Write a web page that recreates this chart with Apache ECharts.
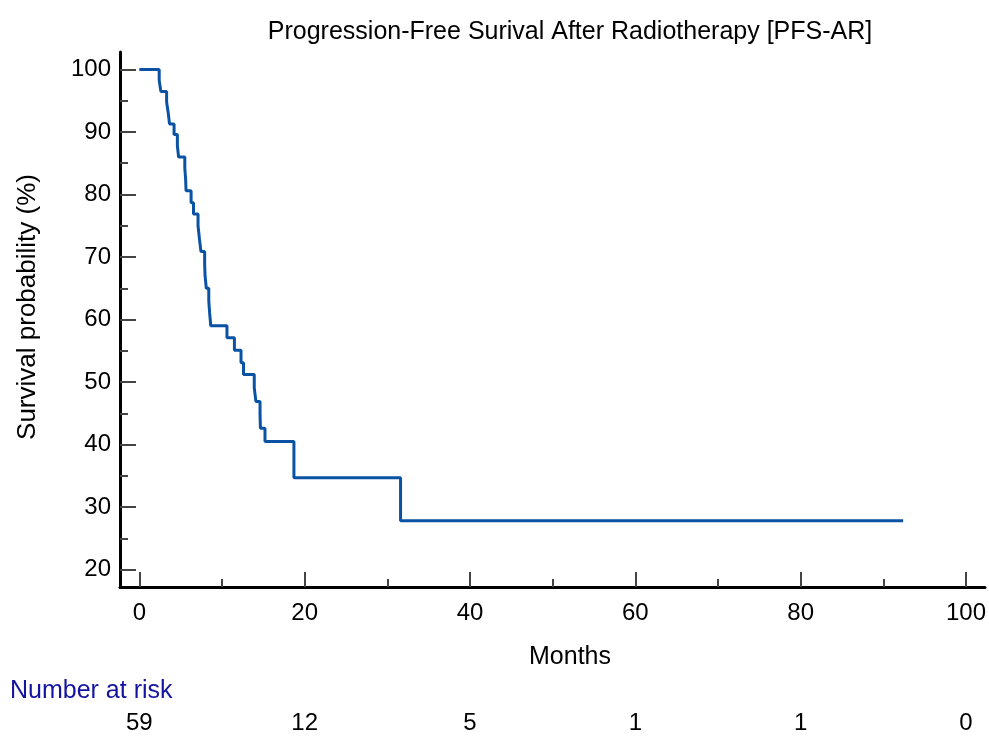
<!DOCTYPE html>
<html>
<head>
<meta charset="utf-8">
<script src="https://cdn.jsdelivr.net/npm/echarts@6/dist/echarts.min.js"></script>
<style>
  html, body { margin: 0; padding: 0; background: #fff; }
  #chart { width: 989px; height: 738px; }
</style>
</head>
<body>
<div id="chart"></div>
<script>
// Kaplan-Meier steps (months, survival %)
let times = [0, 2.4, 2.6, 3.3, 3.5, 3.65, 4.2, 4.6, 4.75, 5.5, 5.6, 5.65, 6.26, 6.55, 7.1, 7.27, 7.45,
  7.9, 7.95, 8.1, 8.4, 8.5, 8.64, 10.6, 11.5, 12.3, 12.6, 13.9, 14.1, 14.6, 14.65, 15.2, 18.7, 31.6, 92.4]
let survival = [100, 98.3, 96.5, 94.8, 93.0, 91.3, 89.6, 87.8, 86.0, 84.2, 82.4, 80.6, 78.7, 76.9, 75.0, 72.9, 70.9,
  68.9, 67.0, 65.0, 63.0, 61.1, 59.0, 57.1, 55.1, 53.1, 51.2, 49.1, 46.9, 44.7, 42.6, 40.5, 34.7, 27.8, 27.8]

let xMajor = [0, 20, 40, 60, 80, 100]
let xMinor = [10, 30, 50, 70, 90]
let yMajor = [20, 30, 40, 50, 60, 70, 80, 90, 100]
let yMinor = [25, 35, 45, 55, 65, 75, 85, 95]

let riskTimes = [0, 20, 40, 60, 80, 100]
let riskCounts = [59, 12, 5, 1, 1, 0]

let FONT = "'Liberation Sans', Arial, sans-serif"
let xMin = -2.34, xMax = 102.3
let yMin = 17.2, yMax = 102.8

let curve = times.map((t, i) => [t, survival[i]])

let chart = echarts.init(document.getElementById("chart"), null, { renderer: "canvas" })

let tickStyle = { color: "#444", width: 2 }

let option = {
  animation: false,
  grid: { left: 120, right: 4, top: 52, bottom: 151, containLabel: false },
  xAxis: [
    {
      type: "value", min: xMin, max: xMax, position: "bottom",
      axisLine: { show: true, onZero: false, lineStyle: { color: "#000", width: 3 } },
      axisTick: { show: true, inside: true, length: 15, customValues: xMajor, lineStyle: tickStyle },
      axisLabel: { customValues: xMajor, margin: 14, fontSize: 24, color: "#000", fontFamily: FONT },
      splitLine: { show: false }
    },
    {
      type: "value", min: xMin, max: xMax, position: "bottom",
      axisLine: { show: false, onZero: false },
      axisTick: { show: true, inside: true, length: 8, customValues: xMinor, lineStyle: tickStyle },
      axisLabel: { show: false },
      splitLine: { show: false }
    },
    {
      // number at risk row
      type: "value", min: xMin, max: xMax, position: "bottom", offset: 110,
      axisLine: { show: false, onZero: false },
      axisTick: { show: false },
      axisLabel: {
        customValues: riskTimes, margin: 14, fontSize: 24, color: "#000", fontFamily: FONT,
        formatter: v => String(riskCounts[riskTimes.indexOf(v)])
      },
      splitLine: { show: false }
    }
  ],
  yAxis: [
    {
      type: "value", min: yMin, max: yMax, position: "left",
      axisLine: { show: true, onZero: false, lineStyle: { color: "#000", width: 3 } },
      axisTick: { show: true, inside: true, length: 16, customValues: yMajor, lineStyle: tickStyle },
      axisLabel: { customValues: yMajor, margin: 9, fontSize: 24, color: "#000", fontFamily: FONT },
      splitLine: { show: false }
    },
    {
      type: "value", min: yMin, max: yMax, position: "left",
      axisLine: { show: false, onZero: false },
      axisTick: { show: true, inside: true, length: 8, customValues: yMinor, lineStyle: tickStyle },
      axisLabel: { show: false },
      splitLine: { show: false }
    }
  ],
  series: [{
    type: "line",
    step: "end",
    data: curve,
    showSymbol: false,
    symbol: "none",
    lineStyle: { color: "#0a52a3", width: 3 },
    xAxisIndex: 0,
    yAxisIndex: 0
  }],
  graphic: [
    {
      type: "text", x: 570, y: 32,
      style: { text: "Progression-Free Surival After Radiotherapy [PFS-AR]", font: "25px " + FONT,
        fill: "#000", textAlign: "center", textVerticalAlign: "middle" }
    },
    {
      type: "text", x: 570, y: 657,
      style: { text: "Months", font: "25px " + FONT, fill: "#000", textAlign: "center", textVerticalAlign: "middle" }
    },
    {
      type: "text", x: 10, y: 691,
      style: { text: "Number at risk", font: "25px " + FONT, fill: "#1414a0", textAlign: "left", textVerticalAlign: "middle" }
    },
    {
      type: "text", x: 28, y: 307, rotation: Math.PI / 2,
      style: { text: "Survival probability (%)", font: "26px " + FONT, fill: "#000", textAlign: "center", textVerticalAlign: "middle" }
    }
  ]
}

chart.setOption(option)
</script>
</body>
</html>
